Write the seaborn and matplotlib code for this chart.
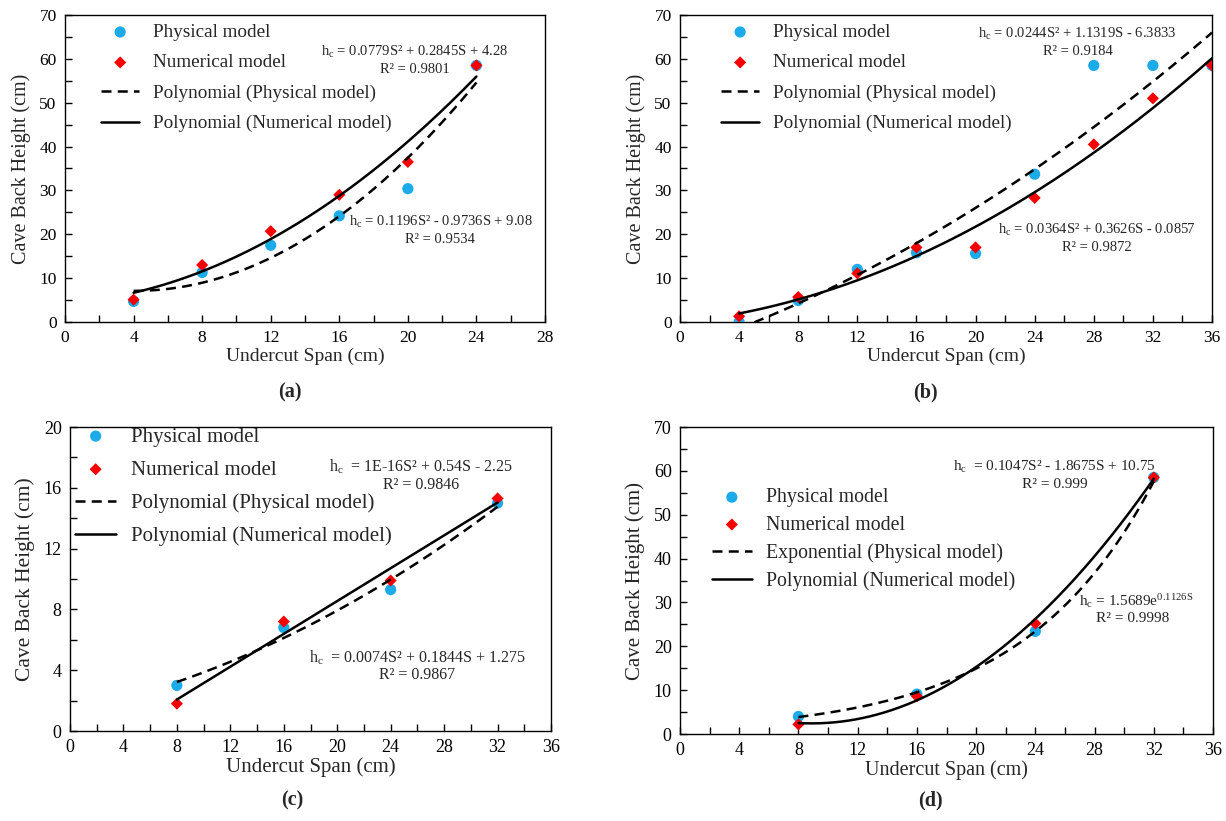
import numpy as np
import pandas as pd
import seaborn as sns
import matplotlib.pyplot as plt
from matplotlib.ticker import MultipleLocator

sns.set_style("ticks")
plt.rcParams['font.family'] = ['Liberation Serif', 'DejaVu Serif']
plt.rcParams['mathtext.fontset'] = 'custom'
plt.rcParams['mathtext.rm'] = 'Liberation Serif'
plt.rcParams['mathtext.it'] = 'Liberation Serif:italic'

BLUE = '#1BABE8'
RED = '#F50000'

# ---------------- data ----------------
span_a = [4, 8, 12, 16, 20, 24]
phys_a = [4.7, 11.3, 17.5, 24.2, 30.4, 58.5]
num_a = [5.1, 13.0, 20.7, 29.0, 36.5, 58.5]

span_b = [4, 8, 12, 16, 20, 24, 28, 32, 36]
phys_b = [0.0, 4.9, 12.0, 15.8, 15.6, 33.7, 58.5, 58.5, 58.5]
num_b = [1.3, 5.7, 11.1, 17.0, 17.0, 28.3, 40.5, 51.0, 58.5]

span_c = [8, 16, 24, 32]
phys_c = [3.0, 6.8, 9.3, 15.0]
num_c = [1.8, 7.2, 9.9, 15.3]

span_d = [8, 16, 24, 32]
phys_d = [4.0, 9.1, 23.4, 58.5]
num_d = [2.2, 8.6, 25.2, 58.5]

# trendline coefficients (as printed on the chart)
fit_a_phys = [0.1196, -0.9736, 9.08]
fit_a_num = [0.0779, 0.2845, 4.28]
fit_b_phys = [0.0244, 1.1319, -6.3833]
fit_b_num = [0.0364, 0.3626, -0.0857]
fit_c_phys = [0.0074, 0.1844, 1.275]
fit_c_num = [1e-16, 0.54, -2.25]
fit_d_phys_exp = [1.5689, 0.1126]
fit_d_num = [0.1047, -1.8675, 10.75]

fig = plt.figure(figsize=(12.26, 8.21), dpi=100)

def px_axes(l, r, t, b):
    W, H = 1226, 821
    return fig.add_axes([l / W, 1 - b / H, (r - l) / W, (b - t) / H])

def panel(ax, span, phys, num, fphys, fnum, exp_phys, xmax, ymax, ymaj, ymin,
          leg_anchor, leg_fs, leg_space, tick_fs, lab_fs, dash_label):
    df = pd.DataFrame({'S': span, 'Physical model': phys, 'Numerical model': num})
    sns.scatterplot(data=df, x='S', y='Physical model', ax=ax, color=BLUE, marker='o',
                    s=65, edgecolor='none', label='Physical model', zorder=3)
    sns.scatterplot(data=df, x='S', y='Numerical model', ax=ax, color=RED, marker='D',
                    s=38, edgecolor='none', label='Numerical model', zorder=4)
    sg = np.linspace(min(span), max(span), 200)
    if exp_phys:
        yp = fphys[0] * np.exp(fphys[1] * sg)
    else:
        yp = np.polyval(fphys, sg)
    yn = np.polyval(fnum, sg)
    lines = pd.DataFrame({'S': sg, 'p': yp, 'n': yn})
    sns.lineplot(data=lines, x='S', y='p', ax=ax, color='black', lw=1.8,
                 linestyle=(0, (4, 2.5)), label=dash_label, zorder=5)
    sns.lineplot(data=lines, x='S', y='n', ax=ax, color='black', lw=1.8,
                 label='Polynomial (Numerical model)', zorder=5)
    ax.set_xlim(0, xmax)
    ax.set_ylim(0, ymax)
    ax.xaxis.set_major_locator(MultipleLocator(4))
    ax.xaxis.set_minor_locator(MultipleLocator(2))
    ax.yaxis.set_major_locator(MultipleLocator(ymaj))
    ax.yaxis.set_minor_locator(MultipleLocator(ymin))
    ax.tick_params(which='both', direction='in', length=5, width=1, top=False, right=False,
                   labelsize=tick_fs, colors='black', pad=6)
    for sp in ax.spines.values():
        sp.set_visible(True)
        sp.set_color('black')
        sp.set_linewidth(1.0)
    ax.set_xlabel('Undercut Span (cm)', fontsize=lab_fs, labelpad=1)
    ax.set_ylabel('Cave Back Height (cm)', fontsize=lab_fs + 0.5, labelpad=6)
    h, l = ax.get_legend_handles_labels()
    ax.legend(h, l, loc='upper left', bbox_to_anchor=leg_anchor, frameon=False,
              fontsize=leg_fs, labelspacing=leg_space, handlelength=2.0,
              handletextpad=0.7, borderpad=0, borderaxespad=0)

# (a)
ax_a = px_axes(65, 545, 15, 322)
panel(ax_a, span_a, phys_a, num_a, fit_a_phys, fit_a_num, False, 28, 70, 10, 5,
      (0.075, 0.972), 13.8, 0.68, 12.5, 14, 'Polynomial (Physical model)')
ax_a.text(20.4, 61.6, r'h$_\mathrm{c}$ = 0.0779S² + 0.2845S + 4.28', ha='center', va='center', fontsize=10.5)
ax_a.text(20.4, 57.5, 'R² = 0.9801', ha='center', va='center', fontsize=10.5)
ax_a.text(21.9, 22.8, r'h$_\mathrm{c}$ = 0.1196S² - 0.9736S + 9.08', ha='center', va='center', fontsize=10.5)
ax_a.text(21.9, 18.7, 'R² = 0.9534', ha='center', va='center', fontsize=10.5)

# (b)
ax_b = px_axes(680, 1212, 15, 322)
panel(ax_b, span_b, phys_b, num_b, fit_b_phys, fit_b_num, False, 36, 70, 10, 5,
      (0.077, 0.972), 13.8, 0.68, 12.5, 14, 'Polynomial (Physical model)')
ax_b.text(26.9, 65.7, r'h$_\mathrm{c}$ = 0.0244S² + 1.1319S - 6.3833', ha='center', va='center', fontsize=10.5)
ax_b.text(26.9, 61.6, 'R² = 0.9184', ha='center', va='center', fontsize=10.5)
ax_b.text(28.2, 21.0, r'h$_\mathrm{c}$ = 0.0364S² + 0.3626S - 0.0857', ha='center', va='center', fontsize=10.5)
ax_b.text(28.2, 16.9, 'R² = 0.9872', ha='center', va='center', fontsize=10.5)

# (c)
ax_c = px_axes(70, 551, 427, 731)
panel(ax_c, span_c, phys_c, num_c, fit_c_phys, fit_c_num, False, 36, 20, 4, 2,
      (0.01, 1.0), 15, 0.65, 13, 15, 'Polynomial (Physical model)')
ax_c.text(26.3, 17.4, r'h$_\mathrm{c}$  = 1E-16S² + 0.54S - 2.25', ha='center', va='center', fontsize=11.5)
ax_c.text(26.3, 16.2, 'R² = 0.9846', ha='center', va='center', fontsize=11.5)
ax_c.text(26.0, 4.84, r'h$_\mathrm{c}$  = 0.0074S² + 0.1844S + 1.275', ha='center', va='center', fontsize=11.5)
ax_c.text(26.0, 3.66, 'R² = 0.9867', ha='center', va='center', fontsize=11.5)

# (d)
ax_d = px_axes(680, 1213, 427, 734)
panel(ax_d, span_d, phys_d, num_d, fit_d_phys_exp, fit_d_num, True, 36, 70, 10, 5,
      (0.06, 0.80), 14.3, 0.42, 13, 14.5, 'Exponential (Physical model)')
ax_d.text(25.3, 60.9, r'h$_\mathrm{c}$  = 0.1047S² - 1.8675S + 10.75', ha='center', va='center', fontsize=11)
ax_d.text(25.3, 56.8, 'R² = 0.999', ha='center', va='center', fontsize=11)
ax_d.text(30.8, 30.4, r'h$_\mathrm{c}$ = 1.5689e$^{\mathrm{0.1126S}}$', ha='center', va='center', fontsize=11)
ax_d.text(30.6, 26.3, 'R² = 0.9998', ha='center', va='center', fontsize=11)

# panel labels
for lab, x, y in [('(a)', 290, 392), ('(b)', 925, 392), ('(c)', 292, 800), ('(d)', 930, 800)]:
    fig.text(x / 1226, 1 - y / 821, lab, ha='center', va='center', fontsize=14.5, fontweight='bold')

fig.savefig('out.png', dpi=100)
